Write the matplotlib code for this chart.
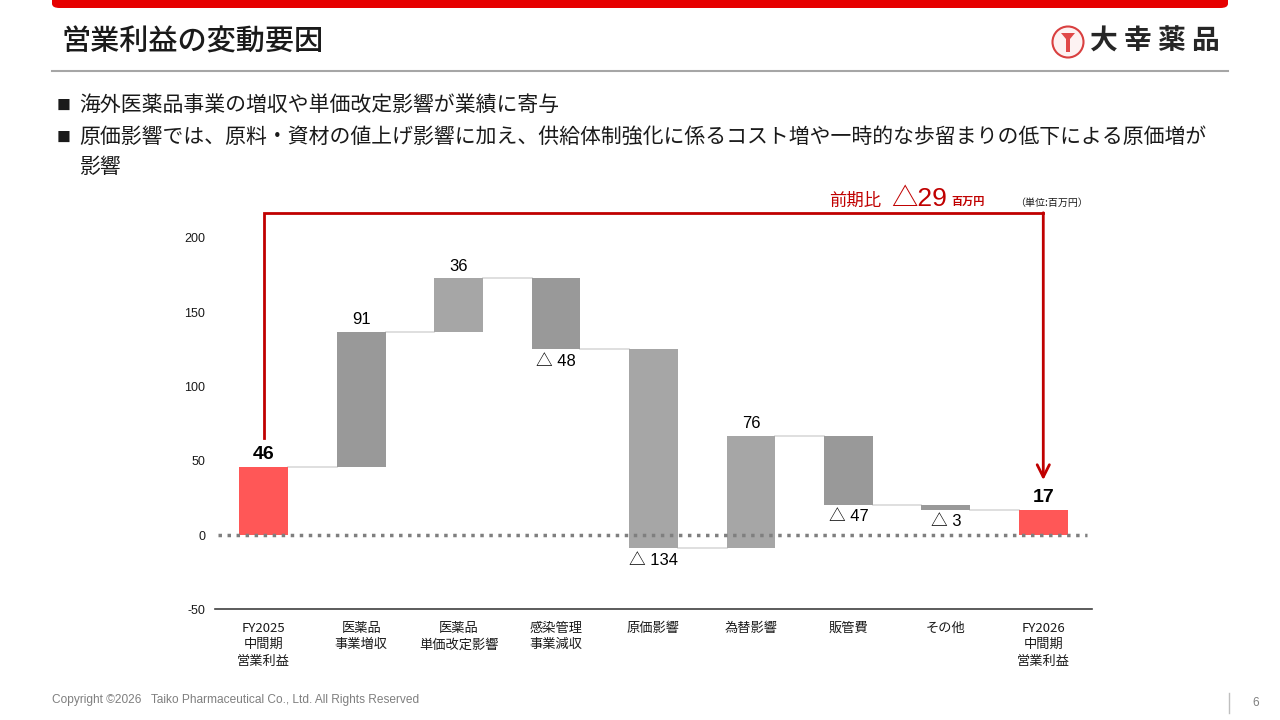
import matplotlib
matplotlib.use("Agg")
import matplotlib.pyplot as plt
from matplotlib.patches import FancyBboxPatch, Ellipse, Polygon

# ---------------- data ----------------
categories = ["FY2025\n中間期\n営業利益", "医薬品\n事業増収", "医薬品\n単価改定影響",
              "感染管理\n事業減収", "原価影響", "為替影響", "販管費", "その他",
              "FY2026\n中間期\n営業利益"]
start_value = 46
changes = [91, 36, -48, -134, 76, -47, -3]
end_value = 17
change_colors = ['#999999', '#A6A6A6', '#999999', '#A6A6A6', '#A6A6A6', '#999999', '#999999']
total_color = '#FF5757'
yticks = [-50, 0, 50, 100, 150, 200]
diff_label = "△29"

JP = ['Noto Sans CJK JP', 'DejaVu Sans']
LAT = ['Liberation Sans', 'Noto Sans CJK JP', 'DejaVu Sans']
plt.rcParams['font.family'] = JP

W, H = 1280, 720
fig = plt.figure(figsize=(12.8, 7.2), dpi=100)

def fx(px):
    return px / W

def fy(py):
    return 1 - py / H

# ---------------- header ----------------
band = FancyBboxPatch((fx(52), fy(8)), fx(1228) - fx(52), 0.02,
                      boxstyle="round,pad=0,rounding_size=0.006",
                      transform=fig.transFigure, facecolor='#E60000',
                      edgecolor='none')
fig.patches.append(band)
fig.text(fx(62), fy(42), "営業利益の変動要因", fontsize=21, color='#1a1a1a',
         va='center', ha='left', family=JP, weight='medium')
fig.add_artist(plt.Line2D([fx(52), fx(1228)], [fy(71), fy(71)],
                          transform=fig.transFigure, color='#A6A6A6', lw=1.5))
# logo
fig.add_artist(Ellipse((fx(1068), fy(42)), 31 / W, 31 / H, transform=fig.transFigure,
                       facecolor='#FDF2F2', edgecolor='#D94040', lw=1.5))
fig.add_artist(Polygon([(fx(1061), fy(33)), (fx(1075), fy(33)), (fx(1070), fy(39)),
                        (fx(1070), fy(52)), (fx(1066), fy(52)), (fx(1066), fy(39))],
                       closed=True, transform=fig.transFigure, facecolor='#E04848',
                       edgecolor='none'))
fig.text(fx(1090), fy(42), "大 幸 薬 品", fontsize=20, color='#262626',
         ha='left', va='center', weight='bold', family=JP)

# bullets
fig.text(fx(57), fy(106), "■", fontsize=10, va='center', ha='left', color='#1a1a1a', family=JP)
fig.text(fx(79), fy(105), "海外医薬品事業の増収や単価改定影響が業績に寄与",
         fontsize=15, va='center', ha='left', color='#1a1a1a', family=JP)
fig.text(fx(57), fy(138), "■", fontsize=10, va='center', ha='left', color='#1a1a1a', family=JP)
fig.text(fx(79), fy(137),
         "原価影響では、原料・資材の値上げ影響に加え、供給体制強化に係るコスト増や一時的な歩留まりの低下による原価増が",
         fontsize=15, va='center', ha='left', color='#1a1a1a', family=JP)
fig.text(fx(79), fy(167), "影響", fontsize=15, va='center', ha='left', color='#1a1a1a', family=JP)

# change annotation
fig.text(fx(829), fy(206), "前期比", fontsize=12.5, color='#C00000', ha='left', va='baseline', family=JP)
fig.text(fx(891), fy(206), diff_label, fontsize=19, color='#C00000', ha='left', va='baseline', family=LAT)
fig.text(fx(951), fy(205), "百万円", fontsize=8, color='#C00000', ha='left', va='baseline',
         weight='bold', family=JP)
fig.text(fx(1015), fy(203), "（単位:百万円）", fontsize=7.2, color='#1a1a1a', ha='left', va='center', family=JP)

# footer
fig.text(fx(52), fy(700), "Copyright ©2026   Taiko Pharmaceutical Co., Ltd. All Rights Reserved",
         fontsize=8.6, color='#7F7F7F', ha='left', va='center', family=LAT)
fig.add_artist(plt.Line2D([fx(1229), fx(1229)], [fy(693), fy(713)],
                          transform=fig.transFigure, color='#BFBFBF', lw=1))
fig.text(fx(1256), fy(703), "6", fontsize=8.5, color='#7F7F7F', ha='center', va='center', family=LAT)

# ---------------- chart ----------------
ymin, ymax = -50, 215
px_per_unit = 297 / 200
top_px = 535 - ymax * px_per_unit
bot_px = 535 - ymin * px_per_unit
ax = fig.add_axes([fx(215), fy(bot_px), fx(1092) - fx(215), (bot_px - top_px) / H])
ax.set_xlim(-0.5, len(categories) - 0.5)
ax.set_ylim(ymin, ymax)

bw = 0.5
bottoms, heights, colors = [], [], []
level = start_value
bottoms.append(0); heights.append(start_value); colors.append(total_color)
levels = [start_value]
for c, col in zip(changes, change_colors):
    bottoms.append(min(level, level + c))
    heights.append(abs(c))
    colors.append(col)
    level += c
    levels.append(level)
bottoms.append(0); heights.append(end_value); colors.append(total_color)

xs = list(range(len(categories)))
ax.bar(xs, heights, bottom=bottoms, width=bw, color=colors, edgecolor='none', zorder=3)

# connectors
for i, lv in enumerate(levels):
    ax.plot([i + bw / 2, i + 1 - bw / 2], [lv, lv], color='#D9D9D9', lw=1.2, zorder=2)

# zero line
ax.plot([-0.47, len(categories) - 0.55], [0, 0], color='#7F7F7F', lw=2.5,
        linestyle=(0, (1, 1.6)), zorder=4)

# labels
ax.annotate(f"{start_value}", (0, start_value), xytext=(0, 3), textcoords='offset points',
            ha='center', va='bottom', fontsize=14, weight='bold', family=LAT, color='black')
ax.annotate(f"{end_value}", (len(categories) - 1, end_value), xytext=(0, 3), textcoords='offset points',
            ha='center', va='bottom', fontsize=14, weight='bold', family=LAT, color='black')
lv = start_value
for i, c in enumerate(changes, start=1):
    if c >= 0:
        ax.annotate(f"{c}", (i, lv + c), xytext=(0, 3), textcoords='offset points',
                    ha='center', va='bottom', fontsize=12, family=LAT, color='black')
    else:
        ax.annotate(f"△ {abs(c)}", (i, lv + c), xytext=(0, -3), textcoords='offset points',
                    ha='center', va='top', fontsize=12, family=LAT, color='black')
    lv += c

# bracket
red = '#C00000'
ax.plot([0, 0, len(categories) - 1], [65, 217, 217], color=red, lw=2,
        clip_on=False, solid_joinstyle='miter', zorder=5)
ax.annotate('', xy=(len(categories) - 1, 37), xytext=(len(categories) - 1, 217),
            arrowprops=dict(arrowstyle='->', color=red, lw=2, mutation_scale=22,
                            shrinkA=0, shrinkB=0),
            annotation_clip=False, zorder=5)

# axes styling
for s in ['top', 'right', 'left']:
    ax.spines[s].set_visible(False)
ax.spines['bottom'].set_color('#404040')
ax.spines['bottom'].set_linewidth(1.2)
ax.set_yticks(yticks)
ax.set_yticklabels([str(t) for t in yticks], fontsize=9, family=LAT)
ax.set_xticks(xs)
ax.set_xticklabels(categories, fontsize=9.5, family=JP, linespacing=1.35)
ax.tick_params(axis='both', length=0, colors='#1a1a1a')
ax.tick_params(axis='y', pad=7)
ax.tick_params(axis='x', pad=9)
ax.set_facecolor('none')

fig.savefig("out.png", dpi=100)
